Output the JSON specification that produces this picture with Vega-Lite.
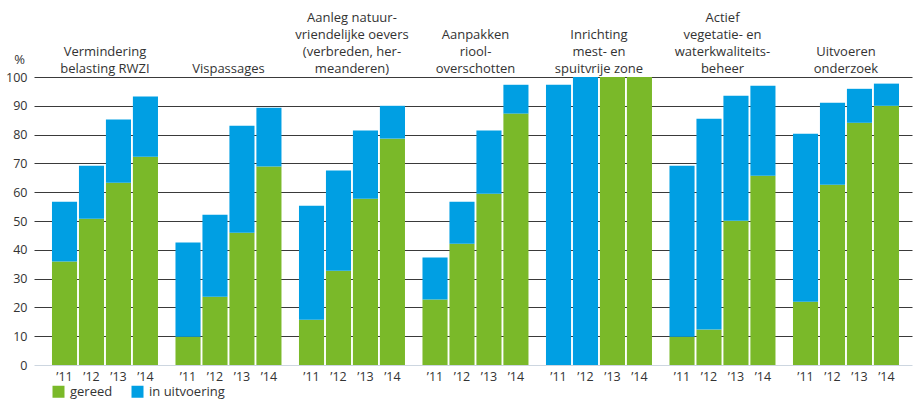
{
  "$schema": "https://vega.github.io/schema/vega-lite/v6.json",
  "width": 878,
  "height": 288,
  "autosize": {"type": "none"},
  "padding": {"left": 34, "top": 77, "right": 2, "bottom": 35},
  "background": "white",
  "config": {"font": "Open Sans", "view": {"stroke": null}},
  "data": {
    "values": [
      {"group": "Vermindering|belasting RWZI", "year": "’11", "status": "gereed", "value": 35.9},
      {"group": "Vermindering|belasting RWZI", "year": "’11", "status": "in uitvoering", "value": 20.8},
      {"group": "Vermindering|belasting RWZI", "year": "’12", "status": "gereed", "value": 50.8},
      {"group": "Vermindering|belasting RWZI", "year": "’12", "status": "in uitvoering", "value": 18.4},
      {"group": "Vermindering|belasting RWZI", "year": "’13", "status": "gereed", "value": 63.3},
      {"group": "Vermindering|belasting RWZI", "year": "’13", "status": "in uitvoering", "value": 21.9},
      {"group": "Vermindering|belasting RWZI", "year": "’14", "status": "gereed", "value": 72.3},
      {"group": "Vermindering|belasting RWZI", "year": "’14", "status": "in uitvoering", "value": 20.9},
      {"group": "Vispassages", "year": "’11", "status": "gereed", "value": 9.8},
      {"group": "Vispassages", "year": "’11", "status": "in uitvoering", "value": 32.7},
      {"group": "Vispassages", "year": "’12", "status": "gereed", "value": 23.7},
      {"group": "Vispassages", "year": "’12", "status": "in uitvoering", "value": 28.5},
      {"group": "Vispassages", "year": "’13", "status": "gereed", "value": 45.9},
      {"group": "Vispassages", "year": "’13", "status": "in uitvoering", "value": 37.2},
      {"group": "Vispassages", "year": "’14", "status": "gereed", "value": 68.9},
      {"group": "Vispassages", "year": "’14", "status": "in uitvoering", "value": 20.4},
      {"group": "Aanleg natuur-|vriendelijke oevers|(verbreden, her-|meanderen)", "year": "’11", "status": "gereed", "value": 15.7},
      {"group": "Aanleg natuur-|vriendelijke oevers|(verbreden, her-|meanderen)", "year": "’11", "status": "in uitvoering", "value": 39.6},
      {"group": "Aanleg natuur-|vriendelijke oevers|(verbreden, her-|meanderen)", "year": "’12", "status": "gereed", "value": 32.7},
      {"group": "Aanleg natuur-|vriendelijke oevers|(verbreden, her-|meanderen)", "year": "’12", "status": "in uitvoering", "value": 34.8},
      {"group": "Aanleg natuur-|vriendelijke oevers|(verbreden, her-|meanderen)", "year": "’13", "status": "gereed", "value": 57.7},
      {"group": "Aanleg natuur-|vriendelijke oevers|(verbreden, her-|meanderen)", "year": "’13", "status": "in uitvoering", "value": 23.7},
      {"group": "Aanleg natuur-|vriendelijke oevers|(verbreden, her-|meanderen)", "year": "’14", "status": "gereed", "value": 78.6},
      {"group": "Aanleg natuur-|vriendelijke oevers|(verbreden, her-|meanderen)", "year": "’14", "status": "in uitvoering", "value": 11.4},
      {"group": "Aanpakken|riool-|overschotten", "year": "’11", "status": "gereed", "value": 22.7},
      {"group": "Aanpakken|riool-|overschotten", "year": "’11", "status": "in uitvoering", "value": 14.6},
      {"group": "Aanpakken|riool-|overschotten", "year": "’12", "status": "gereed", "value": 42.1},
      {"group": "Aanpakken|riool-|overschotten", "year": "’12", "status": "in uitvoering", "value": 14.6},
      {"group": "Aanpakken|riool-|overschotten", "year": "’13", "status": "gereed", "value": 59.5},
      {"group": "Aanpakken|riool-|overschotten", "year": "’13", "status": "in uitvoering", "value": 21.9},
      {"group": "Aanpakken|riool-|overschotten", "year": "’14", "status": "gereed", "value": 87.3},
      {"group": "Aanpakken|riool-|overschotten", "year": "’14", "status": "in uitvoering", "value": 10.0},
      {"group": "Inrichting|mest- en|spuitvrije zone", "year": "’11", "status": "gereed", "value": 0},
      {"group": "Inrichting|mest- en|spuitvrije zone", "year": "’11", "status": "in uitvoering", "value": 97.3},
      {"group": "Inrichting|mest- en|spuitvrije zone", "year": "’12", "status": "gereed", "value": 0},
      {"group": "Inrichting|mest- en|spuitvrije zone", "year": "’12", "status": "in uitvoering", "value": 100},
      {"group": "Inrichting|mest- en|spuitvrije zone", "year": "’13", "status": "gereed", "value": 100},
      {"group": "Inrichting|mest- en|spuitvrije zone", "year": "’13", "status": "in uitvoering", "value": 0},
      {"group": "Inrichting|mest- en|spuitvrije zone", "year": "’14", "status": "gereed", "value": 100},
      {"group": "Inrichting|mest- en|spuitvrije zone", "year": "’14", "status": "in uitvoering", "value": 0},
      {"group": "Actief|vegetatie- en|waterkwaliteits-|beheer", "year": "’11", "status": "gereed", "value": 9.8},
      {"group": "Actief|vegetatie- en|waterkwaliteits-|beheer", "year": "’11", "status": "in uitvoering", "value": 59.4},
      {"group": "Actief|vegetatie- en|waterkwaliteits-|beheer", "year": "’12", "status": "gereed", "value": 12.3},
      {"group": "Actief|vegetatie- en|waterkwaliteits-|beheer", "year": "’12", "status": "in uitvoering", "value": 73.2},
      {"group": "Actief|vegetatie- en|waterkwaliteits-|beheer", "year": "’13", "status": "gereed", "value": 50.1},
      {"group": "Actief|vegetatie- en|waterkwaliteits-|beheer", "year": "’13", "status": "in uitvoering", "value": 43.4},
      {"group": "Actief|vegetatie- en|waterkwaliteits-|beheer", "year": "’14", "status": "gereed", "value": 65.7},
      {"group": "Actief|vegetatie- en|waterkwaliteits-|beheer", "year": "’14", "status": "in uitvoering", "value": 31.3},
      {"group": "Uitvoeren|onderzoek", "year": "’11", "status": "gereed", "value": 22.0},
      {"group": "Uitvoeren|onderzoek", "year": "’11", "status": "in uitvoering", "value": 58.3},
      {"group": "Uitvoeren|onderzoek", "year": "’12", "status": "gereed", "value": 62.6},
      {"group": "Uitvoeren|onderzoek", "year": "’12", "status": "in uitvoering", "value": 28.5},
      {"group": "Uitvoeren|onderzoek", "year": "’13", "status": "gereed", "value": 84.1},
      {"group": "Uitvoeren|onderzoek", "year": "’13", "status": "in uitvoering", "value": 11.8},
      {"group": "Uitvoeren|onderzoek", "year": "’14", "status": "gereed", "value": 90.0},
      {"group": "Uitvoeren|onderzoek", "year": "’14", "status": "in uitvoering", "value": 7.7}
    ]
  },
  "resolve": {"axis": {"y": "independent"}},
  "encoding": {
    "x": {
      "field": "group",
      "type": "nominal",
      "sort": null,
      "scale": {"paddingInner": 0.1417, "paddingOuter": 0.1255, "align": 0.58},
      "axis": {
        "orient": "top",
        "title": null,
        "domain": false,
        "ticks": false,
        "labelAngle": 0,
        "labelExpr": "reverse(split(datum.label, '|'))",
        "labelFontSize": 13,
        "labelColor": "#333333",
        "labelPadding": 5,
        "labelLineHeight": -17,
        "labelBaseline": "alphabetic",
        "labelLimit": 0
      }
    },
    "xOffset": {
      "field": "year",
      "type": "nominal",
      "scale": {"paddingInner": 0.07, "paddingOuter": 0}
    }
  },
  "layer": [
    {
      "mark": {"type": "bar"},
      "encoding": {
        "y": {
          "field": "value",
          "type": "quantitative",
          "stack": "zero",
          "scale": {"domain": [0, 100], "nice": false},
          "axis": {
            "title": "%",
            "titleAngle": 0,
            "titleX": -15,
            "titleY": -14,
            "titleAlign": "center",
            "titleBaseline": "alphabetic",
            "titleFontWeight": "normal",
            "titleFontSize": 13,
            "titleColor": "#333333",
            "domain": false,
            "ticks": false,
            "labelPadding": 7,
            "labelFontSize": 12.5,
            "labelColor": "#333333",
            "labelOverlap": false,
            "values": [0, 10, 20, 30, 40, 50, 60, 70, 80, 90, 100],
            "gridColor": {"condition": {"test": "datum.value === 0", "value": "#cdd6e0"}, "value": "#3a3a3a"},
            "gridWidth": 1,
            "gridOpacity": 1
          }
        },
        "color": {
          "field": "status",
          "type": "nominal",
          "scale": {"domain": ["gereed", "in uitvoering"], "range": ["#7ab929", "#009fe3"]},
          "legend": {
            "orient": "none",
            "legendX": 18,
            "legendY": 308,
            "direction": "horizontal",
            "title": null,
            "symbolType": "square",
            "symbolSize": 144,
            "symbolStrokeWidth": 0,
            "symbolOpacity": 1,
            "labelFontSize": 13,
            "labelColor": "#333333",
            "labelOffset": 5,
            "columnPadding": 18
          }
        },
        "order": {"field": "status", "sort": "ascending"}
      }
    },
    {
      "transform": [{"filter": "datum.status === 'gereed'"}],
      "mark": {"type": "text", "dy": 12, "baseline": "middle", "align": "center", "fontSize": 12.5, "color": "#333333"},
      "encoding": {
        "y": {"datum": 0, "type": "quantitative", "axis": null},
        "text": {"field": "year"}
      }
    }
  ]
}
